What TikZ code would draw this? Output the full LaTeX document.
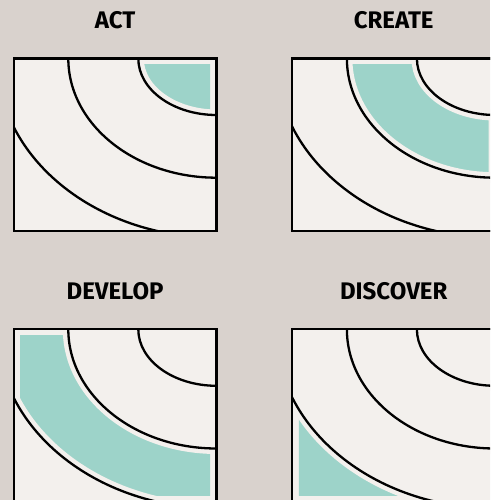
\documentclass[tikz,border=0pt]{standalone}
\usepackage{fontspec}
\setmainfont{Fira Sans}
\usepackage{tikz}
\usetikzlibrary{positioning}

\definecolor{paper}{HTML}{D9D2CD}
\definecolor{cardbg}{HTML}{F3F0ED}
\definecolor{mint}{HTML}{9DD3C9}

\begin{document}
\begin{tikzpicture}[x=1pt, y=1pt,
  card/.style={draw, line width=2.3pt, fill=cardbg, minimum width=202.8pt,
    minimum height=172.3pt, inner sep=0pt, outer sep=0pt},
  title/.style={font=\fontsize{24}{24}\selectfont\bfseries},
  ring/.style={line width=2.3pt},
  gap/.style={draw=cardbg, line width=11pt}]
\fill[paper] (0,0) rectangle (490,500);
\useasboundingbox (0,0) rectangle (490,500);
\clip (0,0) rectangle (490,500);
% one card per stage: name/title/centre/inner radii/outer radii of the band
\foreach \pn/\ttl/\px/\py/\ain/\bin/\aout/\bout in {
    act/ACT/115.1/355.35/0.01/0.01/78.2/56.5,
    create/CREATE/393.7/355.35/78.2/56.5/148.2/119.2,
    develop/DEVELOP/115.1/84.55/148.2/119.2/219.4/179.1,
    discover/DISCOVER/393.7/84.55/219.4/179.1/600/600} {
  \node[card] (\pn) at (\px,\py) {};
  \node[title, above=30pt of \pn, anchor=base] (\pn-title) {\ttl};
  % shaded band, kept off the border
  \begin{scope}
    \clip ([shift={(6.5,6.5)}]\pn.south west) rectangle ([shift={(-6.5,-6.5)}]\pn.north east);
    \fill[mint, even odd rule] (\pn.north east) ellipse [x radius=\aout, y radius=\bout]
      (\pn.north east) ellipse [x radius=\ain, y radius=\bin];
  \end{scope}
  % the three arcs round the top right corner
  \begin{scope}
    \clip (\pn.south west) rectangle (\pn.north east);
    \foreach \a/\b in {78.2/56.5, 148.2/119.2, 219.4/179.1}
      \draw[gap] (\pn.north east) ellipse [x radius=\a, y radius=\b];
    \foreach \a/\b in {78.2/56.5, 148.2/119.2, 219.4/179.1}
      \draw[ring] (\pn.north east) ellipse [x radius=\a, y radius=\b];
  \end{scope}
  \draw[line width=2.3pt] (\pn.south west) rectangle (\pn.north east);
}
\end{tikzpicture}
\end{document}
